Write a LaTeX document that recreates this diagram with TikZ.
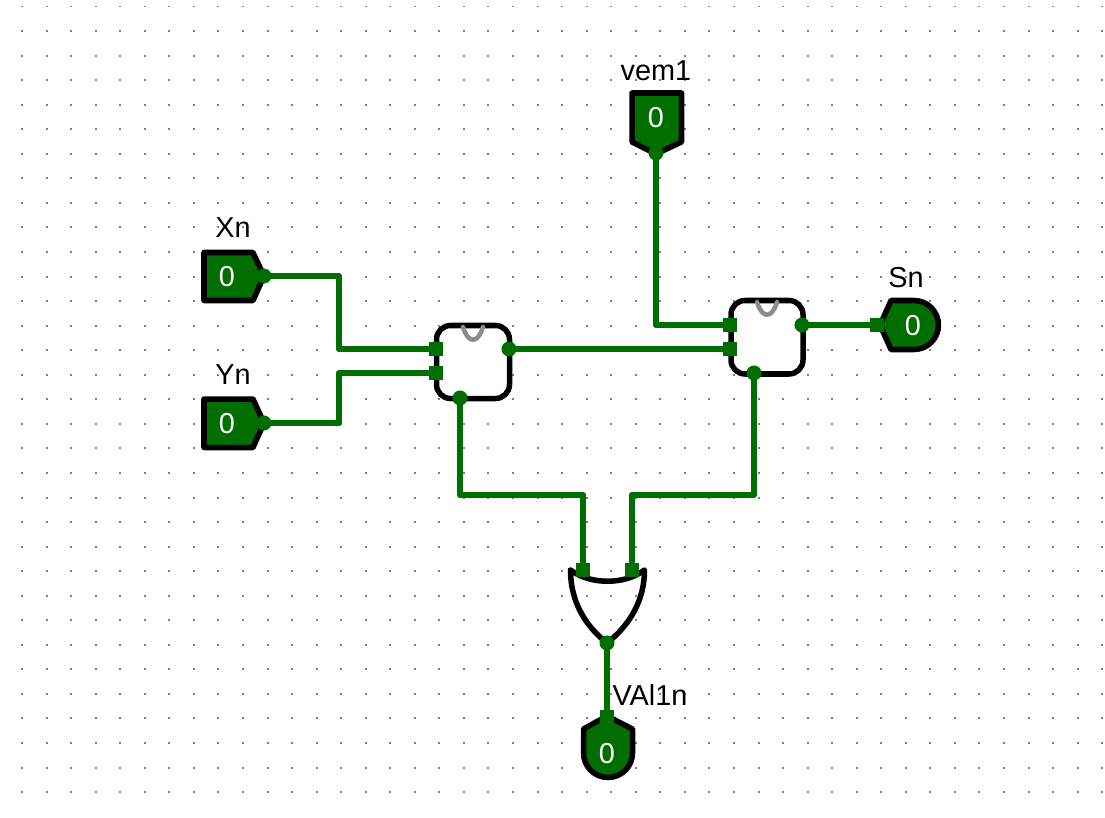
\documentclass[tikz,border=0pt]{standalone}
\usepackage{fontspec}
\setmainfont{Liberation Sans}
\usetikzlibrary{calc}
\definecolor{wiregreen}{RGB}{0,110,0}
\tikzset{
  wire/.style={draw=wiregreen,line width=0.068cm,line join=round,line cap=round},
  outline/.style={draw=black,line width=0.055cm,line join=round},
  pinshape/.style={outline,fill=wiregreen},
  gatebody/.style={outline,fill=white,rounded corners=0.14cm},
  tilde/.style={draw=gray!90,line width=0.045cm,line cap=round},
  griddot/.style={fill=gray},
  pinout/.style={circle,fill=wiregreen,inner sep=0pt,minimum size=0.15cm},
  pinin/.style={rectangle,fill=wiregreen,inner sep=0pt,minimum size=0.145cm},
  lbl/.style={font=\fontsize{8.2}{9}\selectfont,text=black,inner sep=0pt},
  val/.style={font=\fontsize{8.2}{9}\selectfont,text=white,inner sep=0pt}
}
\begin{document}
\begin{tikzpicture}[x=0.01cm,y=-0.01cm]
\useasboundingbox (0,0) rectangle (1105,818);
\fill[white] (0,0) rectangle (1105,818);
% Background dots
  \foreach \i in {0,...,44}
    \foreach \j in {0,...,32}
      \fill[griddot] ({22+24.55*\i-1},{6.5+24.55*\j-1}) rectangle +(2,2);

% Input Xn
  \draw[pinshape] (204,252.5) -- (253,252.5) -- (264,276) -- (253,300.5) -- (204,300.5) -- cycle;
  \node[val] (xnval) at (227,277) {0};
  \node[lbl] (xnlabel) at (233,228) {Xn};
% Input Yn
  \draw[pinshape] (204,399) -- (253,399) -- (264,423) -- (253,447.5) -- (204,447.5) -- cycle;
  \node[val] (ynval) at (227,424) {0};
  \node[lbl] (ynlabel) at (233,375) {Yn};
% Input vem1
  \draw[pinshape] (632,93) -- (681.5,93) -- (681.5,142) -- (656,154) -- (632,142) -- cycle;
  \node[val] (vemval) at (656,118) {0};
  \node[lbl] (vemlabel) at (656,71) {vem1};
% Output Sn
  \draw[pinshape] (880,325) -- (891,300.5) -- (914,300.5) arc (-90:90:24.5) -- (891,349.5) -- cycle;
  \node[val] (snval) at (913,326) {0};
  \node[lbl] (snlabel) at (906,278) {Sn};
% Output VAl1n
  \draw[pinshape] (607,716) -- (632.5,729) -- (632.5,753) arc (0:180:24.5) -- (583.5,729) -- cycle;
  \node[val] (valval) at (607,754) {0};
  \node[lbl] (vallabel) at (650,695) {VAl1n};

% Gate no1
  \draw[gatebody] (436.5,325.5) rectangle (509.5,398.5);
  \draw[tilde] (463,327) .. controls (468,344) and (478,344) .. (483,327);
% Gate no2
  \draw[gatebody] (731,300.5) rectangle (803,374);
  \draw[tilde] (757,302) .. controls (762,319) and (772,319) .. (777,302);
% Or gate
  \draw[outline,line cap=round] (570.5,570) .. controls (590,585) and (625,585) .. (644.5,570)
    .. controls (644.5,600) and (630,625) .. (607,643)
    .. controls (584,625) and (570.5,600) .. (570.5,570);

% Pins
  \node[pinout] (xnout) at (264,276) {};
  \node[pinout] (ynout) at (264,423) {};
  \node[pinout] (vemout) at (656,153) {};
  \node[pinin] (snin) at (877,325) {};
  \node[pinin] (valin) at (607,717) {};
  \node[pinin] (gatea) at (436,349) {};
  \node[pinin] (gateb) at (436,373) {};
  \node[pinout] (gateout) at (509,349) {};
  \node[pinout] (gatecarry) at (460,398) {};
  \node[pinin] (gatec) at (730,325) {};
  \node[pinin] (gated) at (730,349) {};
  \node[pinout] (gatesum) at (802,325) {};
  \node[pinout] (gateborrow) at (754,373) {};
  \node[pinin] (ora) at (583,570) {};
  \node[pinin] (orb) at (632,570) {};
  \node[pinout] (orout) at (607,643) {};

% Bends
  \coordinate (xnbend) at (339,276);
  \coordinate (ynbend) at (339,423);
  \coordinate (carrybend) at (460,495);
  \coordinate (borrowbend) at (754,495);

% Wires
  \draw[wire] (xnout.center) -- (xnbend) |- (gatea.center);
  \draw[wire] (ynout.center) -- (ynbend) |- (gateb.center);
  \draw[wire] (vemout.center) |- (gatec.center);
  \draw[wire] (gateout.center) -- (gated.center);
  \draw[wire] (gatesum.center) -- (snin.center);
  \draw[wire] (gatecarry.center) -- (carrybend) -| (ora.center);
  \draw[wire] (gateborrow.center) -- (borrowbend) -| (orb.center);
  \draw[wire] (orout.center) -- (valin.center);
\end{tikzpicture}
\end{document}
